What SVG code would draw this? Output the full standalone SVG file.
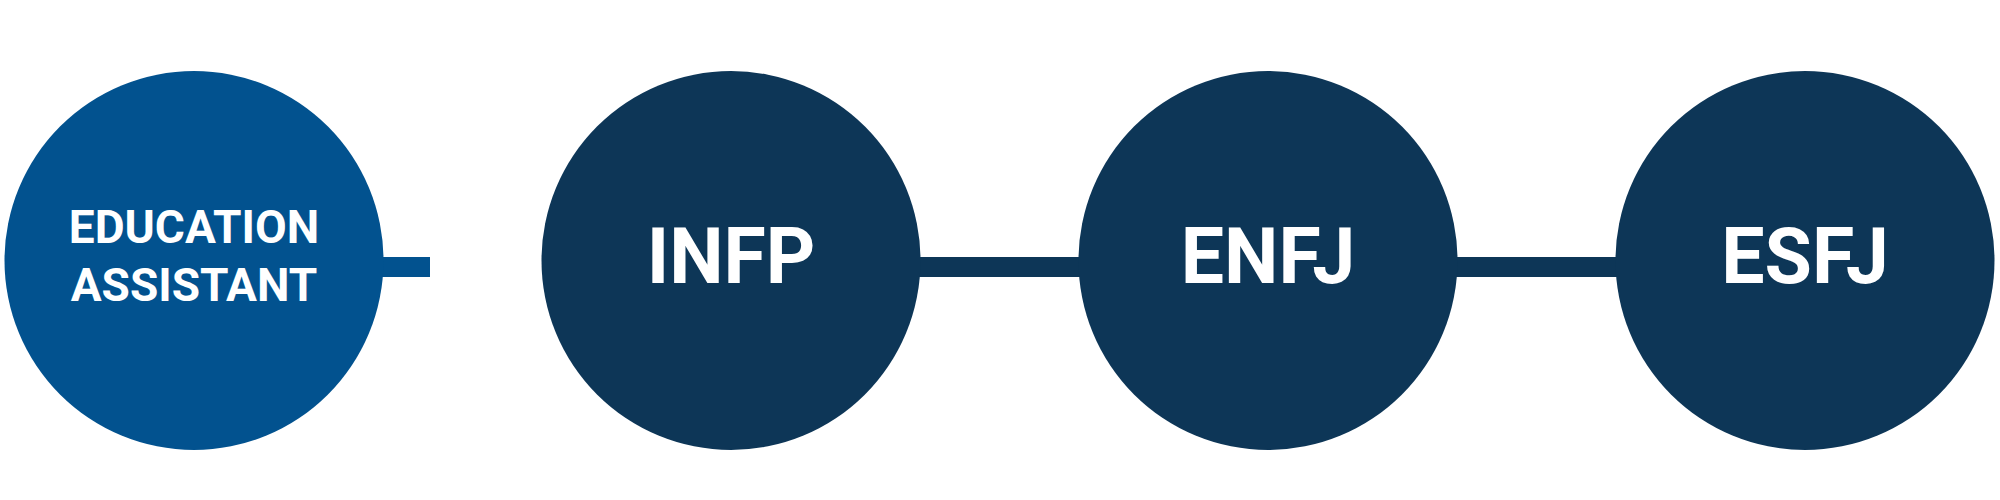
<svg xmlns="http://www.w3.org/2000/svg" width="2000" height="500" viewBox="0 0 2000 500">
<style>
.n{fill:#0D3657}.a{fill:#02528F}
text{font-family:Roboto,"Liberation Sans",sans-serif;font-weight:bold;fill:#fff;text-anchor:middle}
.big{font-size:77px}.sm{font-size:46px}
</style>
<rect x="0" y="0" width="2000" height="500" fill="#fff"/>
<g id="connectors">
<rect x="300" y="257" width="130" height="20" class="a"/>
<rect x="900" y="257" width="200" height="20" class="n"/>
<rect x="1440" y="257" width="200" height="20" class="n"/>
</g>
<g id="node1"><circle cx="194" cy="260.5" r="189.5" class="a"/>
<text class="sm" x="194" y="243">EDUCATION</text><text class="sm" x="194" y="301">ASSISTANT</text></g>
<g id="node2"><circle cx="731" cy="260.5" r="189.5" class="n"/><text class="big" x="731" y="283">INFP</text></g>
<g id="node3"><circle cx="1268" cy="260.5" r="189.5" class="n"/><text class="big" x="1268" y="283">ENFJ</text></g>
<g id="node4"><circle cx="1805" cy="260.5" r="189.5" class="n"/><text class="big" x="1805" y="283">ESFJ</text></g>
</svg>
